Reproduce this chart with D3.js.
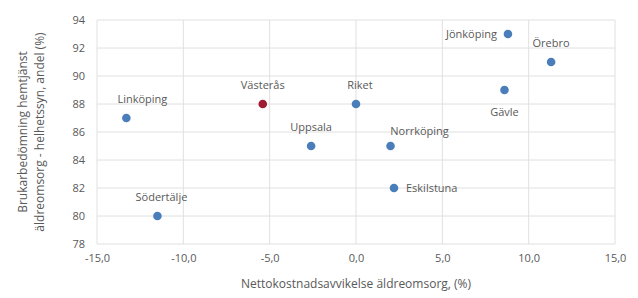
<!DOCTYPE html>
<html>
<head>
<meta charset="utf-8">
<script src="https://cdn.jsdelivr.net/npm/d3@7"></script>
<style>
  body { margin: 0; background: #fff; }
  text { font-family: "Open Sans", "Noto Sans", sans-serif; fill: #595959; }
</style>
</head>
<body>
<div class="content"></div>
<script>
var names   = ["Linköping", "Västerås", "Riket", "Uppsala", "Norrköping", "Eskilstuna", "Södertälje", "Jönköping", "Örebro", "Gävle"];
var xValues = [-13.3, -5.4, 0.0, -2.6, 2.0, 2.2, -11.5, 8.8, 11.3, 8.6];
var yValues = [87, 88, 88, 85, 85, 82, 80, 93, 91, 89];
var labelSide = ["above", "above", "above", "above", "above-right", "right", "above", "left", "above", "below"];
var xTicks = [-15, -10, -5, 0, 5, 10, 15];
var yTicks = [78, 80, 82, 84, 86, 88, 90, 92, 94];

var W = 638, H = 298;
var plotL = 97, plotR = 615, plotT = 20, plotB = 244;

var svg = d3.select(".content").append("svg")
  .attr("width", W)
  .attr("height", H);

var x = d3.scaleLinear().domain([-15, 15]).range([plotL, plotR]);
var y = d3.scaleLinear().domain([78, 94]).range([plotB, plotT]);

// grid
svg.append("g").selectAll("line")
  .data(yTicks)
  .enter().append("line")
    .attr("x1", plotL).attr("x2", plotR)
    .attr("y1", function(d) {return y(d)}).attr("y2", function(d) {return y(d)})
    .attr("stroke", "#e0e0e0").attr("stroke-width", 1);

svg.append("g").selectAll("line")
  .data(xTicks)
  .enter().append("line")
    .attr("y1", plotT).attr("y2", plotB)
    .attr("x1", function(d) {return x(d)}).attr("x2", function(d) {return x(d)})
    .attr("stroke", "#e0e0e0").attr("stroke-width", 1);

// axes (labels only)
var fmt = function(d) {return d3.format(".1f")(d).replace(".", ",").replace("\u2212", "-")};

svg.append("g")
  .attr("transform", "translate(0," + (plotB + 7) + ")")
  .call(d3.axisBottom(x).tickValues(xTicks).tickFormat(fmt).tickSize(0));
svg.append("g")
  .attr("transform", "translate(" + (plotL - 9) + ",0)")
  .call(d3.axisLeft(y).tickValues(yTicks).tickSize(0));
svg.selectAll(".domain").remove();
svg.selectAll(".tick text")
  .attr("font-size", "11px")
  .attr("font-family", "Open Sans, sans-serif")
  .attr("fill", "#595959");

// titles
svg.append("text")
  .attr("x", (plotL + plotR) / 2)
  .attr("y", 288)
  .attr("text-anchor", "middle")
  .attr("font-size", "12px")
  .text("Nettokostnadsavvikelse äldreomsorg, (%)");

var ty = svg.append("text")
  .attr("transform", "translate(27," + ((plotT + plotB) / 2) + ") rotate(-90)")
  .attr("text-anchor", "middle")
  .attr("font-size", "12px");
ty.append("tspan").attr("x", 0).attr("dy", 0).text("Brukarbedömning hemtjänst");
ty.append("tspan").attr("x", 0).attr("dy", 17).text("äldreomsorg - helhetssyn, andel (%)");

// points
var data = names.map(function(n, i) {return {name: n, x: xValues[i], y: yValues[i], side: labelSide[i]}});

svg.selectAll("circle")
  .data(data)
  .enter().append("circle")
    .attr("cx", function(d) {return x(d.x)})
    .attr("cy", function(d) {return y(d.y)})
    .attr("r", 4.3)
    .attr("fill", function(d) {return d.name == "Västerås" ? "#a01c32" : "#4a7ebb"});

svg.selectAll(".lbl")
  .data(data)
  .enter().append("text")
    .attr("class", "lbl")
    .attr("font-size", "11px")
    .attr("x", function(d) {
      var px = x(d.x);
      if (d.side == "left") return px - 11;
      if (d.side == "right") return px + 12;
      if (d.side == "above-right") return px + 29;
      if (d.name == "Linköping") return px + 16;
      if (d.name == "Södertälje") return px + 4;
      if (d.name == "Riket") return px + 4;
      return px;
    })
    .attr("y", function(d) {
      var py = y(d.y);
      if (d.side == "left" || d.side == "right") return py + 4;
      if (d.side == "below") return py + 26;
      if (d.side == "above-right") return py - 11;
      return py - 15;
    })
    .attr("text-anchor", function(d) {
      if (d.side == "left") return "end";
      if (d.side == "right") return "start";
      return "middle";
    })
    .text(function(d) {return d.name});
</script>
</body>
</html>
